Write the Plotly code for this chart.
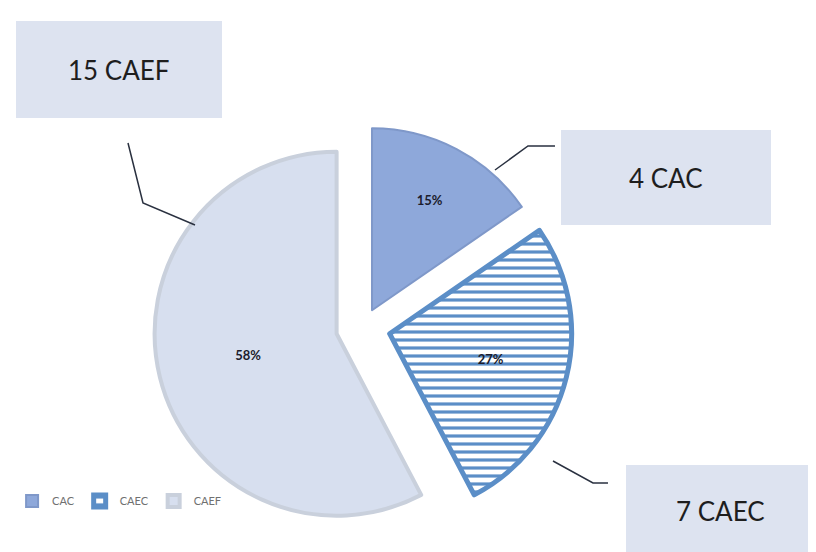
import plotly.graph_objects as go

# Data
categories = ["CAC", "CAEC", "CAEF"]
values = [4, 7, 15]
box_labels = ["4 CAC", "7 CAEC", "15 CAEF"]

W, H = 816, 552

fill_colors = ["#8ea8da", "#5b8ec7", "#d7dfef"]
line_colors = ["#7f98c9", "#5b8ec7", "#c9d0dc"]
line_widths = [2, 5, 4]

fig = go.Figure()
fig.add_trace(go.Pie(
    labels=categories,
    values=values,
    sort=False,
    direction="clockwise",
    rotation=0,
    pull=[0.105, 0.15, 0.15],
    marker=dict(
        colors=fill_colors,
        line=dict(color=line_colors, width=line_widths),
        pattern=dict(shape=["", "-", ""], fillmode="replace",
                     bgcolor=["#8ea8da", "white", "#d7dfef"],
                     fgcolor=["#8ea8da", "#5b8ec7", "#d7dfef"],
                     size=8, solidity=0.4),
    ),
    texttemplate="<b>%{percent:.0%}</b>",
    textposition="inside",
    insidetextorientation="horizontal",
    textfont=dict(family="Lato, Arial", size=13, color="#1c1c2c"),
    domain=dict(x=[0.1787, 0.6917], y=[0.0423, 0.8013]),
    hoverinfo="label+value+percent",
))

def px_x(x):
    return x / W

def px_y(y):
    return 1 - y / H

# Label boxes (pixel boxes converted to paper coords)
boxes = [
    (553, 122, 763, 217),   # 4 CAC
    (618, 457, 806, 548),   # 7 CAEC
    (8, 13, 214, 110),      # 15 CAEF
]
for (x0, y0, x1, y1), txt in zip(boxes, box_labels):
    fig.add_shape(type="rect", xref="paper", yref="paper",
                  x0=px_x(x0), x1=px_x(x1), y0=px_y(y1), y1=px_y(y0),
                  fillcolor="#dde3f0", line=dict(width=0), layer="below")
    fig.add_annotation(xref="paper", yref="paper",
                       x=px_x((x0 + x1) / 2), y=px_y((y0 + y1) / 2),
                       xanchor="center", yanchor="middle",
                       text=txt, showarrow=False,
                       font=dict(family="Lato, Arial", size=26, color="#1e1e1e"))

# Leader lines
leaders = [
    [(487, 162), (520, 138), (547, 138)],
    [(545, 453), (585, 475), (600, 475)],
    [(120, 135), (135, 195), (187, 217)],
]
for pts in leaders:
    path = "M " + " L ".join(f"{px_x(x):.5f} {px_y(y):.5f}" for x, y in pts)
    fig.add_shape(type="path", xref="paper", yref="paper", path=path,
                  line=dict(color="#2a3140", width=1.5))

fig.update_layout(
    width=W, height=H,
    margin=dict(l=0, r=0, t=0, b=0),
    paper_bgcolor="white",
    plot_bgcolor="white",
    showlegend=True,
    legend=dict(orientation="h", x=0.005, y=0.107, yanchor="middle", xanchor="left",
                font=dict(family="Lato, Arial", size=11, color="#707070"),
                itemwidth=30, tracegroupgap=0, bgcolor="rgba(0,0,0,0)"),
)

fig.write_html("out.html")
